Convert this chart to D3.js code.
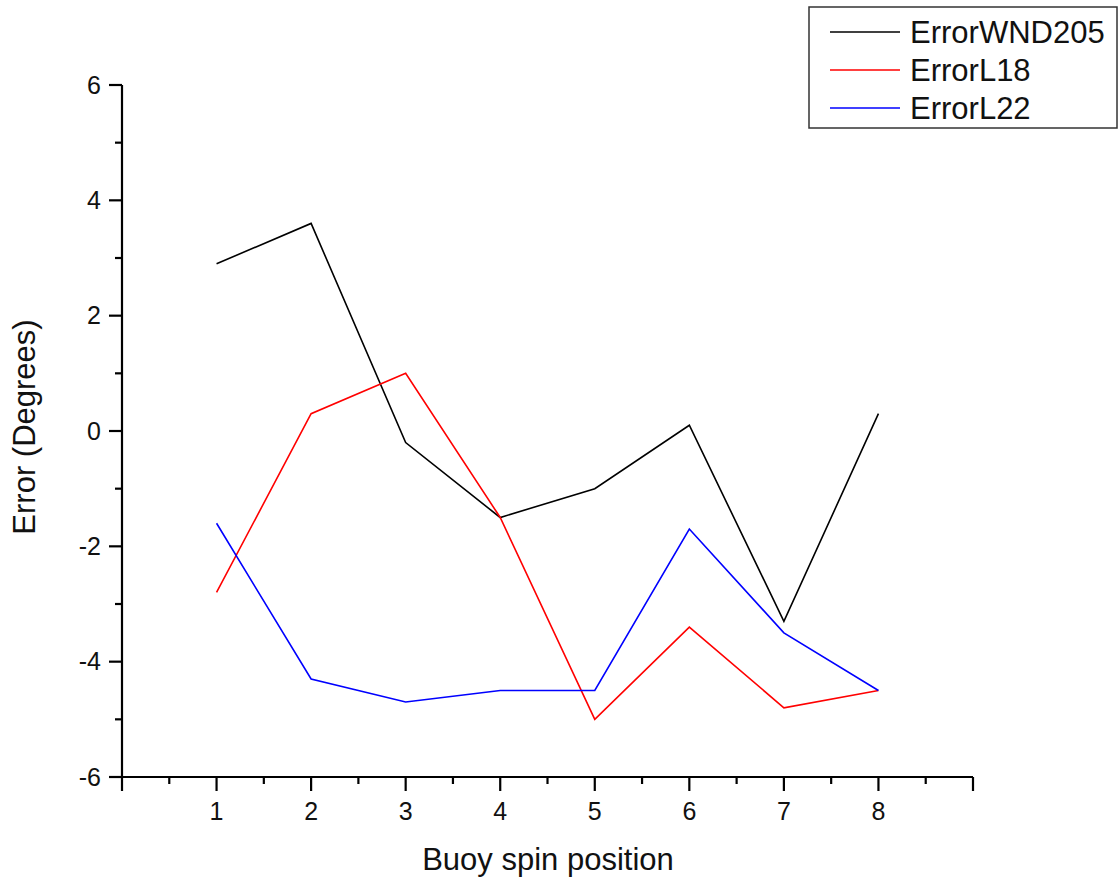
<!DOCTYPE html>
<html><head><meta charset="utf-8">
<script src="https://cdn.jsdelivr.net/npm/d3@7"></script>
<style>body{margin:0;background:#fff}text{font-family:"Liberation Sans",Arial,sans-serif}</style>
</head><body><svg id="c" width="1119" height="880"></svg>
<script>
const positions = [1,2,3,4,5,6,7,8];
const errorWND205 = [2.9, 3.6, -0.2, -1.5, -1.0, 0.1, -3.3, 0.3];
const errorL18 = [-2.8, 0.3, 1.0, -1.5, -5.0, -3.4, -4.8, -4.5];
const errorL22 = [-1.6, -4.3, -4.7, -4.5, -4.5, -1.7, -3.5, -4.5];
const seriesNames = ["ErrorWND205", "ErrorL18", "ErrorL22"];
const seriesColors = ["#000000", "#ff0000", "#0000ff"];
const yTicks = [-6,-4,-2,0,2,4,6];
const xTicks = [1,2,3,4,5,6,7,8];

(function(){
const svg = d3.select("#c");
const pL = 122, pR = 973, pT = 85, pB = 777;
const x = d3.scaleLinear().domain([0,9]).range([pL,pR]);
const y = d3.scaleLinear().domain([-6,6]).range([pB,pT]);

// axes
const yAxis = svg.append("g").attr("transform",`translate(${pL},0)`);
yAxis.append("line").attr("x1",0).attr("x2",0).attr("y1",y(6)).attr("y2",y(-6)).attr("stroke","#000").attr("stroke-width",2.2);
yAxis.selectAll("line.mj").data(yTicks).join("line").attr("class","mj")
  .attr("x1",-13).attr("x2",0).attr("y1",d=>y(d)).attr("y2",d=>y(d)).attr("stroke","#000").attr("stroke-width",2.2);
yAxis.selectAll("line.mn").data(d3.range(-5,6,2)).join("line").attr("class","mn")
  .attr("x1",-7).attr("x2",0).attr("y1",d=>y(d)).attr("y2",d=>y(d)).attr("stroke","#000").attr("stroke-width",2.2);
yAxis.selectAll("text").data(yTicks).join("text")
  .attr("x",-21).attr("y",d=>y(d)).attr("dy","0.35em").attr("text-anchor","end")
  .attr("font-size",25).attr("fill","#111").text(d=>d);

const xAxis = svg.append("g").attr("transform",`translate(0,${pB})`);
xAxis.append("line").attr("x1",x(0)).attr("x2",x(9)).attr("y1",0).attr("y2",0).attr("stroke","#000").attr("stroke-width",2.2);
xAxis.selectAll("line.mj").data(d3.range(0,10)).join("line").attr("class","mj")
  .attr("x1",d=>x(d)).attr("x2",d=>x(d)).attr("y1",0).attr("y2",14).attr("stroke","#000").attr("stroke-width",2.2);
xAxis.selectAll("line.mn").data(d3.range(0.5,9,1)).join("line").attr("class","mn")
  .attr("x1",d=>x(d)).attr("x2",d=>x(d)).attr("y1",0).attr("y2",7).attr("stroke","#000").attr("stroke-width",2.2);
xAxis.selectAll("text").data(xTicks).join("text")
  .attr("x",d=>x(d)).attr("y",43).attr("text-anchor","middle")
  .attr("font-size",25).attr("fill","#111").text(d=>d);

// axis titles
svg.append("text").attr("x",548).attr("y",870).attr("text-anchor","middle")
  .attr("font-size",31).attr("fill","#111").text("Buoy spin position");
svg.append("text").attr("transform","translate(35,427) rotate(-90)").attr("text-anchor","middle")
  .attr("font-size",31).attr("fill","#111").text("Error (Degrees)");

// lines
const data = [errorWND205, errorL18, errorL22];
const line = d3.line().x((d,i)=>x(positions[i])).y(d=>y(d));
svg.selectAll("path.s").data(data).join("path").attr("class","s")
  .attr("d",line).attr("fill","none").attr("stroke",(d,i)=>seriesColors[i]).attr("stroke-width",1.6);

// legend
const lg = svg.append("g");
lg.append("rect").attr("x",809).attr("y",7).attr("width",308).attr("height",121)
  .attr("fill","#fff").attr("stroke","#333").attr("stroke-width",1.5);
const items = lg.selectAll("g.it").data(seriesNames).join("g").attr("class","it")
  .attr("transform",(d,i)=>`translate(0,${32+i*38})`);
items.append("line").attr("x1",830).attr("x2",900).attr("y1",0).attr("y2",0)
  .attr("stroke",(d,i)=>seriesColors[i]).attr("stroke-width",1.6);
items.append("text").attr("x",910).attr("y",0).attr("dy","0.36em").attr("font-size",31).attr("fill","#111").text(d=>d);
})();
</script></body></html>
